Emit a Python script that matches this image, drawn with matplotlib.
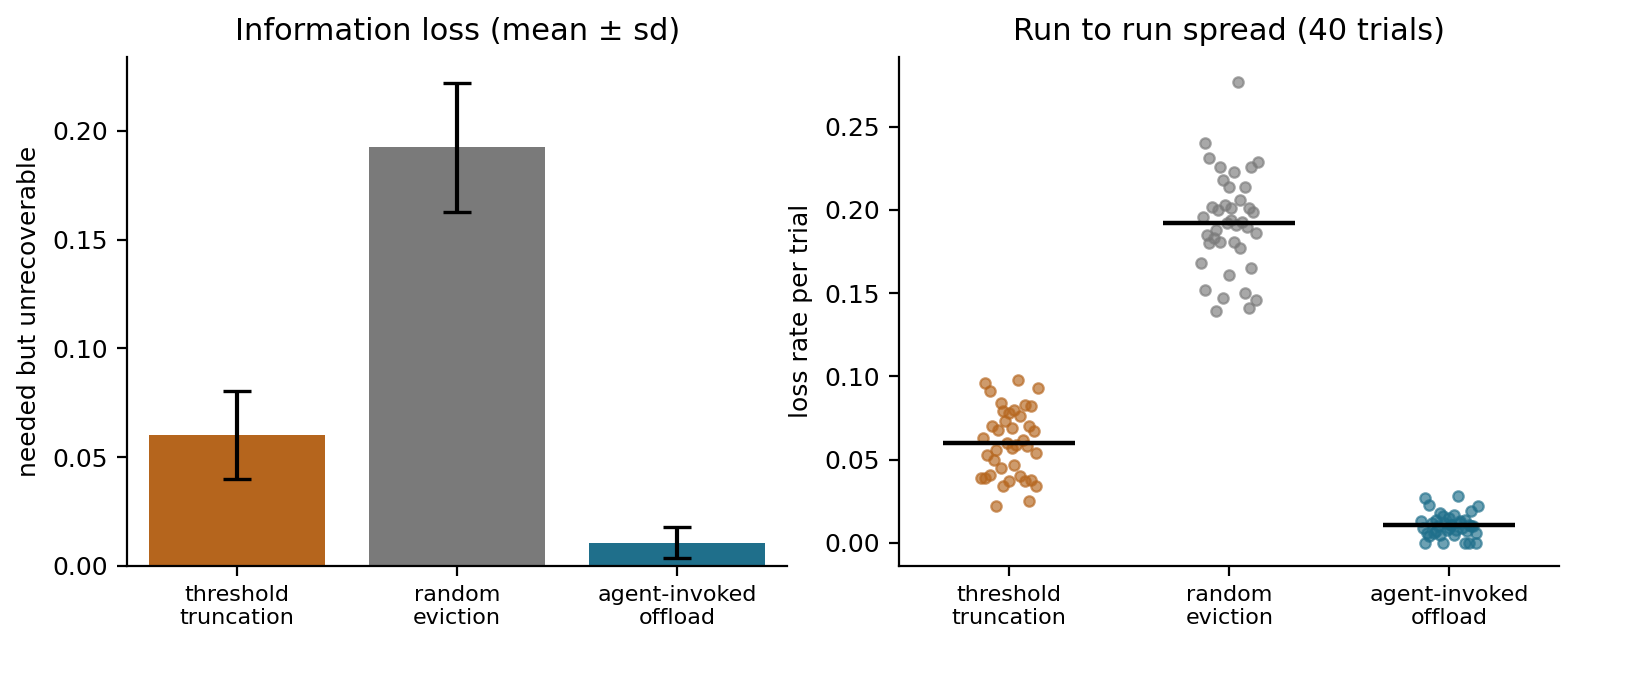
import numpy as np
import matplotlib.pyplot as plt

categories = ["threshold\ntruncation", "random\neviction", "agent-invoked\noffload"]
colors = ["#b5651d", "#7a7a7a", "#1f6f8b"]

threshold = [0.098, 0.096, 0.091, 0.093, 0.084, 0.082, 0.080, 0.079, 0.078, 0.083,
             0.076, 0.073, 0.070, 0.070, 0.069, 0.068, 0.067, 0.063, 0.062, 0.060,
             0.059, 0.058, 0.056, 0.054, 0.053, 0.050, 0.047, 0.045, 0.041, 0.040,
             0.039, 0.038, 0.037, 0.039, 0.037, 0.034, 0.034, 0.025, 0.022, 0.057]
random_ev = [0.277, 0.240, 0.231, 0.229, 0.226, 0.226, 0.223, 0.218, 0.214, 0.214,
             0.206, 0.203, 0.202, 0.201, 0.201, 0.200, 0.199, 0.196, 0.193, 0.192,
             0.191, 0.190, 0.188, 0.186, 0.185, 0.183, 0.181, 0.181, 0.180, 0.177,
             0.168, 0.165, 0.161, 0.152, 0.150, 0.147, 0.146, 0.141, 0.139, 0.194]
agent = [0.028, 0.027, 0.023, 0.022, 0.018, 0.019, 0.017, 0.016, 0.015, 0.014,
         0.013, 0.012, 0.012, 0.011, 0.011, 0.010, 0.010, 0.009, 0.009, 0.008,
         0.008, 0.007, 0.007, 0.006, 0.006, 0.006, 0.005, 0.005, 0.004, 0.012,
         0.013, 0.010, 0.009, 0.000, 0.000, 0.000, 0.000, 0.000, 0.014, 0.011]

# hand-picked horizontal jitter, one per trial
jitter = [0.04, -0.11, -0.09, 0.13, -0.04, 0.10, 0.02, -0.03, 0.00, 0.07,
          0.05, -0.02, -0.08, 0.09, 0.01, -0.05, 0.11, -0.12, 0.06, -0.01,
          0.03, 0.08, -0.06, 0.12, -0.10, -0.07, 0.02, -0.04, -0.09, 0.05,
          -0.13, 0.10, 0.00, -0.11, 0.07, -0.03, 0.12, 0.09, -0.06, 0.01]

groups = [threshold, random_ev, agent]
means = [np.mean(g) for g in groups]
sds = [np.std(g, ddof=1) for g in groups]

plt.rcParams["font.size"] = 9

fig, (ax1, ax2) = plt.subplots(1, 2, figsize=(8.155, 3.38), dpi=200)
plt.subplots_adjust(left=0.078, right=0.956, top=0.916, bottom=0.163, wspace=0.17)

x = np.arange(3)
ax1.bar(x, means, color=colors, width=0.8)
ax1.errorbar(x, means, yerr=sds, fmt="none", ecolor="black", capsize=5, lw=1.5, capthick=1.2)
ax1.set_xticks(x)
ax1.set_xticklabels(categories, fontsize=8)
ax1.set_ylabel("needed but unrecoverable")
ax1.set_title("Information loss (mean ± sd)", fontsize=11)
ax1.set_xlim(-0.5, 2.5)
ax1.set_ylim(0, 0.234)

for i, g in enumerate(groups):
    ax2.scatter(i + np.array(jitter), g, s=14, color=colors[i], alpha=0.65, edgecolors=colors[i], linewidths=0.8, zorder=2)
    ax2.hlines(means[i], i - 0.3, i + 0.3, color="black", lw=1.6, zorder=3)
ax2.set_xticks(x)
ax2.set_xticklabels(categories, fontsize=8)
ax2.set_xlim(-0.5, 2.5)
ax2.set_ylim(-0.0138, 0.292)
ax2.set_ylabel("loss rate per trial")
ax2.set_title("Run to run spread (40 trials)", fontsize=11)

for ax in (ax1, ax2):
    ax.spines["top"].set_visible(False)
    ax.spines["right"].set_visible(False)

fig.savefig("out.png")
